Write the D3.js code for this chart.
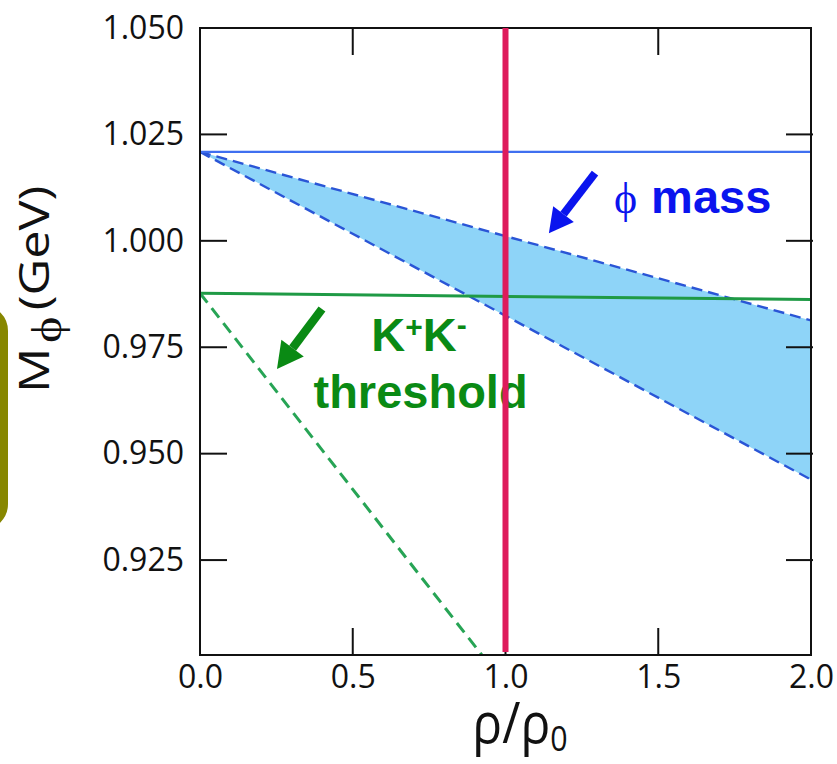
<!DOCTYPE html>
<html>
<head>
<meta charset="utf-8">
<script src="https://cdn.jsdelivr.net/npm/d3@7"></script>
<style>
  html, body { margin: 0; padding: 0; background: #ffffff; }
  svg { display: block; }
</style>
</head>
<body>
<svg id="chart" width="837" height="764"></svg>
<script>
// Density axis (rho / rho0) and tick labels
const densityEnds = [0, 2];
const xTickValues = [0.0, 0.5, 1.0, 1.5, 2.0];
const yTickValues = [0.925, 0.950, 0.975, 1.000, 1.025, 1.050];

// phi meson mass (GeV) at rho = 0 and rho = 2 rho0
const phiVacuum = [1.0209, 1.0209];
const phiUpper = [1.0209, 0.9813];
const phiLower = [1.0209, 0.9439];

// K+K- threshold (GeV)
const kkThreshold = [0.9877, 0.9862];
const kkDropX = [0, 0.9225];
const kkDropY = [0.9877, 0.9027];

// normal nuclear density
const normalDensity = 1.0;

const svg = d3.select("#chart");
const plotLeft = 200, plotRight = 811, plotTop = 28, plotBottom = 655;

const x = d3.scaleLinear().domain([0, 2]).range([plotLeft, plotRight]);
const y = d3.scaleLinear().domain([0.9027, 1.05]).range([plotBottom, plotTop]);

const tickFont = "'Open Sans', 'Noto Sans', sans-serif";

// olive frame peeking in at the left edge
svg.append("rect")
  .attr("x", -200).attr("y", 309)
  .attr("width", 204).attr("height", 217)
  .attr("rx", 22).attr("ry", 22)
  .attr("fill", "none")
  .attr("stroke", "#878700")
  .attr("stroke-width", 8);

svg.append("defs").append("clipPath").attr("id", "plotClip")
  .append("rect").attr("x", plotLeft).attr("y", plotTop)
  .attr("width", plotRight - plotLeft).attr("height", plotBottom - plotTop);

const plot = svg.append("g").attr("clip-path", "url(#plotClip)");

const pts = (xs, ys) => xs.map((v, i) => [v, ys[i]]);
const line = d3.line().x(d => x(d[0])).y(d => y(d[1]));

// shaded band of in-medium phi mass
const band = densityEnds.map((d, i) => ({ x: d, lo: phiLower[i], hi: phiUpper[i] }));
plot.append("path")
  .datum(band)
  .attr("fill", "#8ed4f8")
  .attr("d", d3.area().x(d => x(d.x)).y0(d => y(d.lo)).y1(d => y(d.hi)));

plot.append("path").datum(pts(densityEnds, phiUpper))
  .attr("d", line).attr("fill", "none")
  .attr("stroke", "#2a55d6").attr("stroke-width", 2.4)
  .attr("stroke-dasharray", "11,6");
plot.append("path").datum(pts(densityEnds, phiLower))
  .attr("d", line).attr("fill", "none")
  .attr("stroke", "#2a55d6").attr("stroke-width", 2.4)
  .attr("stroke-dasharray", "11,6");

plot.append("path").datum(pts(densityEnds, phiVacuum))
  .attr("d", line).attr("fill", "none")
  .attr("stroke", "#3f6ff0").attr("stroke-width", 2.2);

plot.append("path").datum(pts(densityEnds, kkThreshold))
  .attr("d", line).attr("fill", "none")
  .attr("stroke", "#1f9a45").attr("stroke-width", 3);

plot.append("path").datum(pts(kkDropX, kkDropY))
  .attr("d", line).attr("fill", "none")
  .attr("stroke", "#27a455").attr("stroke-width", 3)
  .attr("stroke-dasharray", "12,7");

// frame
svg.append("rect")
  .attr("x", plotLeft).attr("y", plotTop)
  .attr("width", plotRight - plotLeft).attr("height", plotBottom - plotTop)
  .attr("fill", "none").attr("stroke", "#111").attr("stroke-width", 2);

// inner ticks on all four sides
const tickLen = 27;
const innerY = yTickValues.filter(v => v < 1.04);
const innerX = xTickValues.filter(v => v > 0 && v < 2);
const ticks = svg.append("g").attr("stroke", "#111").attr("stroke-width", 2);
innerY.forEach(v => {
  ticks.append("line").attr("x1", plotLeft).attr("x2", plotLeft + tickLen).attr("y1", y(v)).attr("y2", y(v));
  ticks.append("line").attr("x1", plotRight + 2).attr("x2", plotRight - tickLen + 2).attr("y1", y(v)).attr("y2", y(v));
});
innerX.forEach(v => {
  ticks.append("line").attr("x1", x(v)).attr("x2", x(v)).attr("y1", plotTop).attr("y2", plotTop + tickLen);
  ticks.append("line").attr("x1", x(v)).attr("x2", x(v)).attr("y1", plotBottom).attr("y2", plotBottom - tickLen);
});

// tick labels through d3 axes
const yAxis = svg.append("g")
  .attr("transform", `translate(${plotLeft},0)`)
  .call(d3.axisLeft(y).tickValues(yTickValues).tickFormat(d3.format(".3f")).tickSize(0).tickPadding(16));
const xAxis = svg.append("g")
  .attr("transform", `translate(0,${plotBottom})`)
  .call(d3.axisBottom(x).tickValues(xTickValues).tickFormat(d3.format(".1f")).tickSize(0).tickPadding(10));
[yAxis, xAxis].forEach(a => {
  a.select(".domain").remove();
  a.selectAll("text")
    .attr("font-family", tickFont)
    .attr("font-size", 32)
    .attr("fill", "#111");
});

// axis titles
const xTitle = svg.append("text")
  .attr("transform", "translate(520,743) scale(0.92,1.05)")
  .attr("text-anchor", "middle")
  .attr("font-family", tickFont)
  .attr("font-size", 54)
  .attr("fill", "#111");
xTitle.append("tspan").text("ρ/ρ");
xTitle.append("tspan").attr("font-size", 33).attr("dy", 8).text("0");

const yTitle = svg.append("text")
  .attr("transform", "translate(49,393) rotate(-90) scale(1.2,1)")
  .attr("font-family", tickFont)
  .attr("font-size", 42)
  .attr("fill", "#111");
yTitle.append("tspan").text("M");
yTitle.append("tspan")
  .attr("font-family", "'Liberation Serif', 'DejaVu Serif', serif")
  .attr("dx", 4).attr("dy", 12).text("ϕ");
yTitle.append("tspan").attr("dx", 5).attr("dy", -12).text("(GeV)");

// annotations
function arrow(x0, y0, x1, y1, color, width, headLen, headW) {
  const px0 = x(x0), py0 = y(y0), px1 = x(x1), py1 = y(y1);
  const ang = Math.atan2(py1 - py0, px1 - px0);
  const bx = px1 - headLen * Math.cos(ang), by = py1 - headLen * Math.sin(ang);
  svg.append("line")
    .attr("x1", px0).attr("y1", py0).attr("x2", bx).attr("y2", by)
    .attr("stroke", color).attr("stroke-width", width);
  const nx = -Math.sin(ang), ny = Math.cos(ang);
  svg.append("polygon")
    .attr("points", [[px1, py1], [bx + nx * headW / 2, by + ny * headW / 2], [bx - nx * headW / 2, by - ny * headW / 2]].map(p => p.join(",")).join(" "))
    .attr("fill", color);
}

arrow(1.293, 1.0159, 1.142, 1.0018, "#0a14ee", 8, 24, 26);
arrow(0.3993, 0.9840, 0.252, 0.9699, "#0a8a14", 8.5, 26, 28);

const phiLabel = svg.append("text")
  .attr("x", x(1.355)).attr("y", y(1.0065))
  .attr("fill", "#0a14ee")
  .attr("font-size", 47);
phiLabel.append("tspan")
  .attr("font-family", "'Liberation Serif', 'DejaVu Serif', serif")
  .attr("font-size", 44)
  .text("ϕ");
phiLabel.append("tspan")
  .attr("font-family", "'Liberation Sans', Arial, sans-serif")
  .attr("font-weight", "bold")
  .attr("dx", 14)
  .text("mass");

const kk = svg.append("text")
  .attr("x", x(0.717)).attr("y", y(0.9741))
  .attr("text-anchor", "middle")
  .attr("font-family", "'Liberation Sans', Arial, sans-serif")
  .attr("font-weight", "bold")
  .attr("font-size", 47)
  .attr("fill", "#0a8a14");
kk.append("tspan").text("K");
kk.append("tspan").attr("font-size", 30).attr("dy", -14).text("+");
kk.append("tspan").attr("dy", 14).text("K");
kk.append("tspan").attr("font-size", 30).attr("dy", -16).text("-");

svg.append("text")
  .attr("x", x(0.722)).attr("y", y(0.9607))
  .attr("text-anchor", "middle")
  .attr("font-family", "'Liberation Sans', Arial, sans-serif")
  .attr("font-weight", "bold")
  .attr("font-size", 47)
  .attr("fill", "#0a8a14")
  .text("threshold");

// normal nuclear density marker
svg.append("line")
  .attr("x1", x(normalDensity)).attr("x2", x(normalDensity))
  .attr("y1", plotTop).attr("y2", plotBottom - 3)
  .attr("stroke", "#de1b5c").attr("stroke-width", 6);
</script>
</body>
</html>
